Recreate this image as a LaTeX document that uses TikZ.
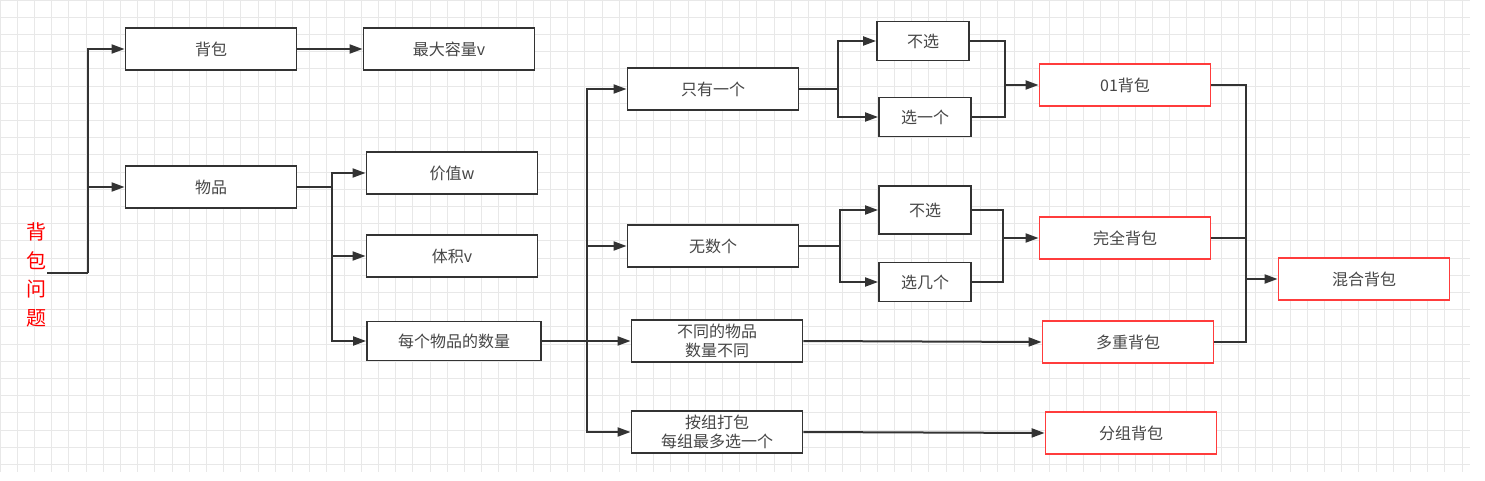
\documentclass[tikz,border=0pt]{standalone}
\usepackage{fontspec}
\newfontfamily\cjk{Noto Sans CJK SC}
\usepackage{tikz}
\usetikzlibrary{arrows.meta,calc,positioning}
\definecolor{linegray}{RGB}{51,51,51}
\definecolor{textgray}{RGB}{70,70,70}
\definecolor{gridgray}{RGB}{232,232,232}
\definecolor{boxred}{RGB}{255,60,60}

\begin{document}
\begin{tikzpicture}[x=1pt,y=-1pt,>={Triangle[length=13pt,width=9pt]},
  box/.style={draw=linegray,line width=1.8pt,minimum width=171,minimum height=42,
    inner sep=0pt,fill=white,text=textgray,font=\cjk\fontsize{16}{18}\selectfont,align=center},
  smallbox/.style={box,minimum width=92,minimum height=39},
  redbox/.style={box,draw=boxred},
  conn/.style={draw=linegray,line width=2pt}]

\useasboundingbox (0,0) rectangle (1485,481);

% --- grid ---
\foreach \gx in {0,17.2,...,1470} \draw[gridgray,line width=0.8pt] (\gx,0) -- (\gx,472);
\foreach \gy in {0,17.2,...,472} \draw[gridgray,line width=0.8pt] (0,\gy) -- (1470,\gy);

% --- root ---
\node[text=red,font=\cjk\fontsize{20}{28.5}\selectfont,align=center,inner sep=0pt]
  (q) at (37,275) {背\\包\\问\\题};

% --- first level ---
\node[box] (bag)  at (211,49)  {背包};
\node[box] (item) at (211,187) {物品};
\node[box] (cap)  at (449,49)  {最大容量v};
\node[box] (val)  at (452,173) {价值w};
\node[box] (vol)  at (452,256) {体积v};
\node[box,minimum width=174,minimum height=39] (num) at (454,341) {每个物品的数量};

% --- quantity cases ---
\node[box,font=\cjk\fontsize{16}{19}\selectfont] (one)   at (713,89)  {只有一个};
\node[box] (inf)   at (713,246) {无数个};
\node[box,font=\cjk\fontsize{16}{19}\selectfont] (multi) at (717,341) {不同的物品\\数量不同};
\node[box,font=\cjk\fontsize{16}{19}\selectfont] (group) at (717,432) {按组打包\\每组最多选一个};

% --- choices ---
\node[smallbox] (no1)  at (923,41)  {不选};
\node[smallbox] (sel1) at (925,117) {选一个};
\node[smallbox,minimum height=48] (no2) at (925,210) {不选};
\node[smallbox] (sel2) at (925,282) {选几个};

% --- knapsack kinds ---
\node[redbox] (k01)   at (1125,85)  {01背包};
\node[redbox] (kfull) at (1125,238) {完全背包};
\node[redbox] (kmul)  at (1128,342) {多重背包};
\node[redbox] (kgrp)  at (1131,433) {分组背包};
\node[redbox] (kmix)  at (1364,279) {混合背包};

% --- junctions ---
\coordinate (j0) at (88,273);
\coordinate (j1) at (332,187);
\coordinate (j2) at (587,341);
\coordinate (j3) at (838,89);
\coordinate (j4) at (840,246);
\coordinate (m1) at (1005,85);
\coordinate (m2) at (1003,238);
\coordinate (m3) at (1246,279);

% --- connectors ---
\draw[conn] (q.east |- j0) -- (j0);
\draw[conn,->] (j0) |- (bag.west);
\draw[conn,->] (j0) |- (item.west);
\draw[conn,->] (bag) -- (cap);

\draw[conn] (item.east) -- (j1);
\draw[conn,->] (j1) |- (val.west);
\draw[conn,->] (j1) |- (vol.west);
\draw[conn,->] (j1) |- (num.west);

\draw[conn] (num.east) -- (j2);
\draw[conn,->] (j2) |- (one.west);
\draw[conn,->] (j2) |- (inf.west);
\draw[conn,->] (j2) -- (multi.west);
\draw[conn,->] (j2) |- (group.west);

\draw[conn] (one.east) -- (j3);
\draw[conn,->] (j3) |- (no1.west);
\draw[conn,->] (j3) |- (sel1.west);
\draw[conn] (inf.east) -- (j4);
\draw[conn,->] (j4) |- (no2.west);
\draw[conn,->] (j4) |- (sel2.west);

\draw[conn] (no1.east) -| (m1);
\draw[conn] (sel1.east) -| (m1);
\draw[conn,->] (m1) -- (k01.west);
\draw[conn] (no2.east) -| (m2);
\draw[conn] (sel2.east) -| (m2);
\draw[conn,->] (m2) -- (kfull.west);

\draw[conn,->] (multi.east) -- (kmul.west);
\draw[conn,->] (group.east) -- (kgrp.west);

\draw[conn] (k01.east) -| (m3);
\draw[conn] (kfull.east) -| (m3);
\draw[conn] (kmul.east) -| (m3);
\draw[conn,->] (m3) -- (kmix.west);

\end{tikzpicture}
\end{document}
